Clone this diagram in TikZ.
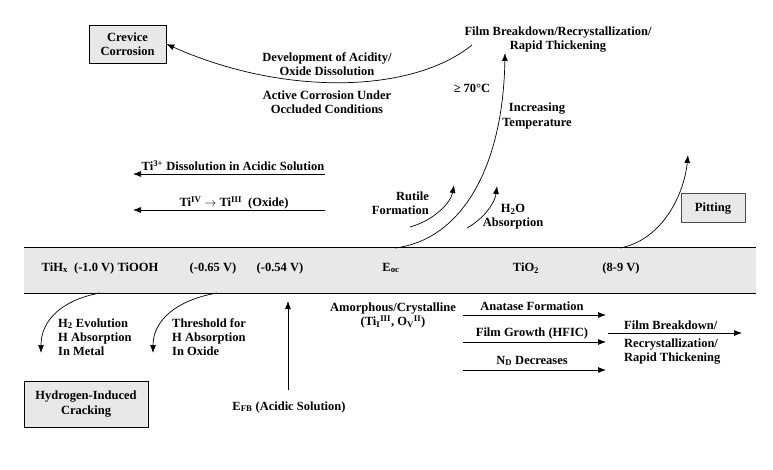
\documentclass[tikz,border=0pt]{standalone}
\usepackage{fontspec}
\setmainfont{Liberation Serif}
\usetikzlibrary{arrows.meta}
\tikzset{
  x=1pt, y=-1pt,
  txt/.style={inner sep=0pt, align=center, font=\fontsize{12.5}{14.2}\selectfont\bfseries},
  boxnode/.style={txt, draw=black, fill=gray!18, line width=0.7pt},
  arr/.style={-{Latex[length=8pt,width=6pt]}, line width=0.7pt},
  con/.style={line width=0.7pt},
}
\begin{document}
\begin{tikzpicture}
\useasboundingbox (0,0) rectangle (773,470);
% band
\fill[gray!18] (24,247) rectangle (756,293);
\draw[con] (24,247) -- (756,247);
\draw[con] (24,293) -- (756,293);
% band texts
\node[txt] (tih) at (100,268) {TiH\textsubscript{x}\ \ (-1.0 V)\ TiOOH};
\node[txt] (v065) at (213,268) {(-0.65 V)};
\node[txt] (v054) at (280,268) {(-0.54 V)};
\node[txt] (eoc) at (391,268) {E\textsubscript{oc}};
\node[txt] (tio2) at (526,268) {TiO\textsubscript{2}};
\node[txt] (v89) at (621,268) {(8-9 V)};
% boxes
\node[boxnode, minimum width=77pt, minimum height=38pt] (crev) at (127.5,44) {Crevice\\Corrosion};
\node[boxnode, minimum width=124pt, minimum height=46pt] (hic) at (86,404) {Hydrogen-Induced\\Cracking};
\node[boxnode, draw=black!70, line width=1pt, minimum width=64pt, minimum height=29pt] (pit) at (713,208.5) {Pitting};
% top texts
\node[txt] (dev) at (327,64) {Development of Acidity/\\Oxide Dissolution};
\node[txt] (act) at (327,102.5) {Active Corrosion Under\\Occluded Conditions};
\node[txt] (fbtop) at (558,39.5) {Film Breakdown/Recrystallization/\\Rapid Thickening};
\node[txt] (t70) at (472,88) {≥ 70°C};
\node[txt] (inc) at (537,116) {Increasing\\Temperature};
\node[txt, align=right, anchor=east] (rut) at (429,203) {Rutile\\Formation};
\node[txt] (h2o) at (513,217) {H\textsubscript{2}O\\Absorption};
\node[txt] (ti3) at (233,166) {Ti\textsuperscript{3+} Dissolution in Acidic Solution};
\node[txt] (tiiv) at (234,203) {Ti\textsuperscript{IV} $\rightarrow$ Ti\textsuperscript{III}\ \ (Oxide)};
% top connectors
\coordinate (cs) at (472,45);
\draw[arr] (cs) .. controls (410,95) and (280,95) .. (crev.east);
\coordinate (es) at (395,248);
\coordinate (ee) at (505,53);
\draw[arr] (es) .. controls (460,240) and (503,170) .. (ee);
\coordinate (rs) at (410,227);
\coordinate (re) at (454,185);
\draw[arr] (rs) .. controls (435,220) and (451,202) .. (re);
\coordinate (hs) at (467,228);
\coordinate (he) at (497,186);
\draw[arr] (hs) .. controls (485,218) and (495,202) .. (he);
\coordinate (ps) at (620,248);
\coordinate (pe) at (688,155);
\draw[arr] (ps) .. controls (662,240) and (684,195) .. (pe);
\coordinate (a1s) at (325,174);
\coordinate (a1e) at (133,174);
\draw[arr] (a1s) -- (a1e);
\coordinate (a2s) at (325,210);
\coordinate (a2e) at (133,210);
\draw[arr] (a2s) -- (a2e);
% bottom texts
\node[txt, align=left, anchor=west] (h2ev) at (58,337) {H\textsubscript{2} Evolution\\H Absorption\\In Metal};
\node[txt, align=left, anchor=west] (thr) at (172,337) {Threshold for\\H Absorption\\In Oxide};
\node[txt] (efb) at (289,407) {E\textsubscript{FB} (Acidic Solution)};
\node[txt] (amo) at (393,315.5) {Amorphous/Crystalline\\(Ti\textsubscript{I}\textsuperscript{III}, O\textsubscript{V}\textsuperscript{II})};
\node[txt] (ana) at (532,306) {Anatase Formation};
\node[txt] (fg) at (532,333) {Film Growth (HFIC)};
\node[txt] (nd) at (532,361) {N\textsubscript{D} Decreases};
\node[txt, anchor=west] (fbb1) at (624,325) {Film Breakdown/};
\node[txt, align=left, anchor=west] (fbb2) at (624,351.5) {Recrystallization/\\Rapid Thickening};
% bottom connectors
\coordinate (b1s) at (100,293);
\coordinate (b1e) at (41,353);
\draw[arr] (b1s) .. controls (62,300) and (41,320) .. (b1e);
\coordinate (b2s) at (217,293);
\coordinate (b2e) at (153,353);
\draw[arr] (b2s) .. controls (177,300) and (153,320) .. (b2e);
\coordinate (fs) at (288,390);
\coordinate (fe) at (288,301);
\draw[arr] (fs) -- (fe);
\coordinate (an1) at (463,315); \coordinate (an2) at (606,315);
\draw[arr] (an1) -- (an2);
\coordinate (fg1) at (463,342); \coordinate (fg2) at (606,342);
\draw[arr] (fg1) -- (fg2);
\coordinate (nd1) at (463,370); \coordinate (nd2) at (606,370);
\draw[arr] (nd1) -- (nd2);
\coordinate (fb1) at (608,333); \coordinate (fb2) at (742,333);
\draw[arr] (fb1) -- (fb2);
\end{tikzpicture}
\end{document}
